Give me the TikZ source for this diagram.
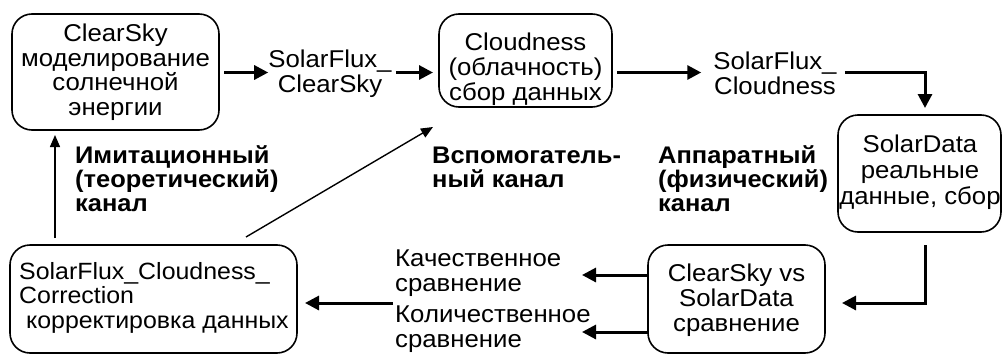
\documentclass[tikz,border=0pt]{standalone}
\usepackage{fontspec}
\setmainfont{Liberation Sans}[FakeStretch=1.06]
\usetikzlibrary{arrows.meta}

\begin{document}
\begin{tikzpicture}[x=1pt,y=-1pt,
  box/.style={draw, line width=1.6pt, rounded corners=20pt, inner sep=0pt, outer sep=0pt},
  txt/.style={font=\fontsize{24.3}{24.7}\selectfont, align=center, inner sep=0pt},
  ltxt/.style={font=\fontsize{24.3}{24.7}\selectfont, align=left, inner sep=0pt},
  btxt/.style={font=\fontsize{24}{24}\selectfont\bfseries, align=left, inner sep=0pt},
  flow/.style={line width=3pt, -{Triangle[length=14pt,width=14pt]}},
  link/.style={line width=1.4pt, -{Triangle[length=12pt,width=10pt]}},
]
\useasboundingbox (0,0) rectangle (1003,356);

% process boxes
\node[box, minimum width=207pt, minimum height=116pt] (clearsky) at (115.5,72) {};
\node[box, minimum width=173pt, minimum height=93pt]  (cloud)    at (525.5,60.5) {};
\node[box, minimum width=163pt, minimum height=117pt] (solar)    at (919.5,173.5) {};
\node[box, minimum width=177pt, minimum height=108pt] (cmp)      at (736.5,299) {};
\node[box, minimum width=287pt, minimum height=108pt] (corr)     at (153.5,299) {};

% box texts (anchored at the baseline of the last line)
\node[txt, anchor=base] (tclear) at (115.5,115.5) {ClearSky\\моделирование\\солнечной\\энергии};
\node[txt, anchor=base] (tcloud) at (525.5,100) {Cloudness\\(облачность)\\сбор данных};
\node[txt, anchor=base, font=\fontsize{24.3}{26}\selectfont] (tsolar) at (920,204) {SolarData\\реальные\\данные, сбор};
\node[txt, anchor=base] (tcmp) at (736.5,331) {ClearSky vs\\SolarData\\сравнение};
\node[ltxt, anchor=base west, font=\fontsize{23.5}{24.5}\selectfont] (tcorr) at (19,328) {SolarFlux\_Cloudness\_\\Correction\\\ корректировка данных};

% flow labels
\node[txt, anchor=base] (l1) at (330,92.5) {SolarFlux\_\\ClearSky};
\node[txt, anchor=base] (l2) at (775,94.5) {SolarFlux\_\\Cloudness};
\node[ltxt, anchor=base west] (q1) at (395,291.5) {Качественное\\сравнение};
\node[ltxt, anchor=base west] (q2) at (395,347.5) {Количественное\\сравнение};

% channel captions
\node[btxt, anchor=base west] (ch1) at (75,211) {Имитационный\\(теоретический)\\канал};
\node[btxt, anchor=base west] (ch2) at (432,187) {Вспомогатель-\\ный канал};
\node[btxt, anchor=base west] (ch3) at (658,211) {Аппаратный\\(физический)\\канал};

% connector levels
\coordinate (row1) at (0,72.5);
\coordinate (rowq1) at (0,275);
\coordinate (rowq2) at (0,332);
\coordinate (row3) at (0,303);
\coordinate (col1) at (55,0);
\coordinate (tipq) at (582,0);

% main data path
\draw[flow, shorten <=5pt] (clearsky.east |- row1) -- (l1.west |- row1);
\draw[flow, shorten <=4pt, shorten >=6pt] (l1.east |- row1) -- (cloud.west |- row1);
\draw[flow, shorten <=5pt] (cloud.east |- row1) -- ([xshift=-12pt]l2.west |- row1);
\draw[flow, shorten <=8pt, shorten >=7pt] (l2.east |- row1) -| ([xshift=5.5pt]solar.north);
\draw[flow, shorten <=13pt, shorten >=17pt] ([xshift=5.5pt]solar.south) |- (cmp.east |- row3);
\draw[flow] (cmp.west |- rowq1) -- (tipq |- rowq1);
\draw[flow] (cmp.west |- rowq2) -- (tipq |- rowq2);
\draw[flow, shorten <=2pt, shorten >=8pt] (q1.west |- row3) -- (corr.east |- row3);

% feedback links
\draw[link, shorten <=7pt, shorten >=5pt] (corr.north -| col1) -- (clearsky.south -| col1);
\draw[link] ([shift={(-51,-8)}]corr.north east) -- ([shift={(-6,20)}]cloud.south west);
\end{tikzpicture}
\end{document}
